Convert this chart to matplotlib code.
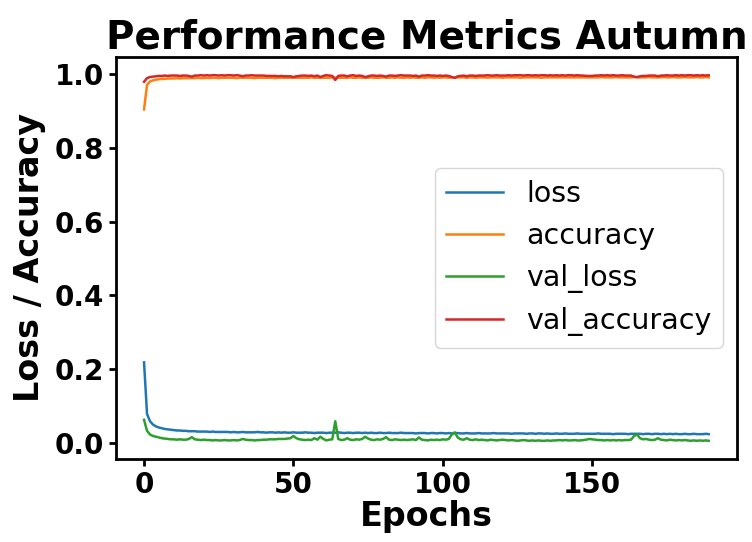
import matplotlib
matplotlib.use("Agg")
import matplotlib.pyplot as plt

# training history (190 epochs)
loss = [
    0.218, 0.078, 0.058, 0.049, 0.044, 0.041, 0.039, 0.037, 0.036, 0.035,
    0.034, 0.033, 0.033, 0.032, 0.032, 0.031, 0.031, 0.031, 0.030, 0.030,
    0.030, 0.030, 0.029, 0.030, 0.029, 0.029, 0.029, 0.029, 0.029, 0.028,
    0.029, 0.028, 0.028, 0.029, 0.028, 0.028, 0.028, 0.028, 0.029, 0.028,
    0.028, 0.027, 0.028, 0.028, 0.027, 0.028, 0.027, 0.028, 0.027, 0.027,
    0.028, 0.027, 0.027, 0.027, 0.028, 0.027, 0.027, 0.026, 0.027, 0.027,
    0.027, 0.026, 0.027, 0.027, 0.027, 0.028, 0.027, 0.026, 0.027, 0.027,
    0.026, 0.027, 0.027, 0.026, 0.027, 0.026, 0.027, 0.026, 0.026, 0.027,
    0.026, 0.026, 0.027, 0.026, 0.026, 0.026, 0.027, 0.026, 0.026, 0.026,
    0.026, 0.025, 0.026, 0.026, 0.026, 0.025, 0.026, 0.026, 0.025, 0.026,
    0.026, 0.025, 0.026, 0.025, 0.026, 0.026, 0.025, 0.025, 0.026, 0.025,
    0.025, 0.025, 0.026, 0.025, 0.025, 0.025, 0.025, 0.026, 0.025, 0.025,
    0.025, 0.025, 0.025, 0.024, 0.025, 0.025, 0.025, 0.025, 0.024, 0.025,
    0.025, 0.024, 0.025, 0.025, 0.024, 0.025, 0.024, 0.024, 0.025, 0.024,
    0.024, 0.025, 0.024, 0.024, 0.024, 0.025, 0.024, 0.024, 0.024, 0.024,
    0.024, 0.024, 0.025, 0.024, 0.024, 0.024, 0.024, 0.023, 0.024, 0.024,
    0.024, 0.024, 0.023, 0.024, 0.024, 0.024, 0.024, 0.023, 0.024, 0.024,
    0.023, 0.024, 0.024, 0.023, 0.024, 0.023, 0.024, 0.023, 0.024, 0.023,
    0.023, 0.024, 0.023, 0.023, 0.024, 0.023, 0.023, 0.023, 0.024, 0.023,
]
accuracy = [
    0.905, 0.972, 0.981, 0.984, 0.986, 0.987, 0.988, 0.988, 0.989, 0.989,
    0.989, 0.990, 0.989, 0.990, 0.990, 0.990, 0.990, 0.990, 0.991, 0.990,
    0.990, 0.991, 0.990, 0.991, 0.991, 0.990, 0.991, 0.991, 0.991, 0.991,
    0.991, 0.990, 0.991, 0.991, 0.991, 0.991, 0.991, 0.990, 0.991, 0.991,
    0.991, 0.991, 0.991, 0.991, 0.990, 0.991, 0.991, 0.991, 0.991, 0.991,
    0.991, 0.991, 0.991, 0.991, 0.991, 0.991, 0.992, 0.991, 0.991, 0.991,
    0.991, 0.991, 0.991, 0.992, 0.991, 0.991, 0.991, 0.991, 0.991, 0.992,
    0.991, 0.991, 0.992, 0.991, 0.991, 0.991, 0.992, 0.991, 0.991, 0.991,
    0.992, 0.991, 0.991, 0.992, 0.991, 0.992, 0.991, 0.991, 0.992, 0.991,
    0.992, 0.991, 0.991, 0.992, 0.991, 0.992, 0.992, 0.991, 0.992, 0.991,
    0.992, 0.992, 0.991, 0.992, 0.991, 0.992, 0.992, 0.992, 0.991, 0.992,
    0.992, 0.991, 0.992, 0.992, 0.992, 0.991, 0.992, 0.992, 0.992, 0.992,
    0.991, 0.992, 0.992, 0.992, 0.992, 0.992, 0.991, 0.992, 0.992, 0.992,
    0.992, 0.992, 0.992, 0.991, 0.992, 0.992, 0.992, 0.992, 0.992, 0.992,
    0.992, 0.992, 0.992, 0.992, 0.992, 0.992, 0.992, 0.992, 0.992, 0.992,
    0.992, 0.992, 0.992, 0.993, 0.992, 0.992, 0.992, 0.992, 0.993, 0.992,
    0.992, 0.992, 0.992, 0.992, 0.993, 0.992, 0.992, 0.992, 0.992, 0.993,
    0.992, 0.992, 0.992, 0.992, 0.993, 0.992, 0.992, 0.993, 0.992, 0.992,
    0.992, 0.993, 0.992, 0.992, 0.992, 0.993, 0.992, 0.992, 0.993, 0.992,
]
val_loss = [
    0.062, 0.032, 0.022, 0.018, 0.016, 0.014, 0.012, 0.011, 0.010, 0.009,
    0.009, 0.008, 0.009, 0.008, 0.008, 0.010, 0.015, 0.009, 0.008, 0.007,
    0.008, 0.007, 0.007, 0.006, 0.007, 0.006, 0.006, 0.007, 0.006, 0.006,
    0.007, 0.006, 0.007, 0.010, 0.008, 0.007, 0.007, 0.006, 0.007, 0.007,
    0.008, 0.008, 0.009, 0.009, 0.009, 0.010, 0.010, 0.010, 0.011, 0.012,
    0.018, 0.012, 0.009, 0.008, 0.007, 0.008, 0.007, 0.012, 0.008, 0.016,
    0.010, 0.006, 0.008, 0.009, 0.058, 0.010, 0.007, 0.008, 0.012, 0.008,
    0.007, 0.009, 0.008, 0.010, 0.016, 0.011, 0.008, 0.007, 0.009, 0.008,
    0.010, 0.015, 0.008, 0.007, 0.009, 0.008, 0.007, 0.008, 0.007, 0.008,
    0.009, 0.007, 0.014, 0.008, 0.007, 0.006, 0.008, 0.007, 0.008, 0.007,
    0.009, 0.008, 0.010, 0.022, 0.028, 0.014, 0.009, 0.008, 0.012, 0.008,
    0.007, 0.009, 0.007, 0.008, 0.007, 0.006, 0.008, 0.007, 0.006, 0.007,
    0.008, 0.007, 0.006, 0.007, 0.006, 0.005, 0.006, 0.007, 0.006, 0.005,
    0.006, 0.005, 0.006, 0.005, 0.005, 0.006, 0.005, 0.006, 0.006, 0.007,
    0.006, 0.007, 0.006, 0.006, 0.007, 0.006, 0.006, 0.007, 0.008, 0.010,
    0.009, 0.008, 0.007, 0.007, 0.006, 0.007, 0.006, 0.007, 0.006, 0.007,
    0.006, 0.007, 0.007, 0.008, 0.018, 0.022, 0.012, 0.009, 0.010, 0.008,
    0.007, 0.008, 0.012, 0.008, 0.007, 0.006, 0.008, 0.007, 0.006, 0.007,
    0.006, 0.007, 0.006, 0.005, 0.006, 0.005, 0.006, 0.005, 0.006, 0.005,
]
val_accuracy = [
    0.980, 0.990, 0.993, 0.994, 0.995, 0.996, 0.996, 0.997, 0.996, 0.997,
    0.997, 0.997, 0.996, 0.997, 0.997, 0.996, 0.994, 0.997, 0.997, 0.998,
    0.997, 0.998, 0.997, 0.998, 0.998, 0.997, 0.998, 0.997, 0.998, 0.998,
    0.997, 0.998, 0.997, 0.995, 0.997, 0.997, 0.998, 0.997, 0.997, 0.997,
    0.997, 0.996, 0.996, 0.996, 0.996, 0.995, 0.996, 0.995, 0.995, 0.995,
    0.993, 0.995, 0.996, 0.997, 0.997, 0.996, 0.997, 0.995, 0.997, 0.993,
    0.996, 0.998, 0.997, 0.996, 0.985, 0.996, 0.997, 0.997, 0.995, 0.997,
    0.998, 0.996, 0.997, 0.996, 0.993, 0.995, 0.997, 0.997, 0.996, 0.997,
    0.996, 0.994, 0.997, 0.997, 0.996, 0.997, 0.998, 0.997, 0.997, 0.997,
    0.996, 0.997, 0.994, 0.997, 0.997, 0.998, 0.997, 0.997, 0.996, 0.997,
    0.996, 0.997, 0.996, 0.993, 0.991, 0.995, 0.996, 0.997, 0.995, 0.997,
    0.997, 0.996, 0.997, 0.997, 0.997, 0.998, 0.997, 0.997, 0.998, 0.997,
    0.997, 0.997, 0.998, 0.997, 0.998, 0.998, 0.998, 0.997, 0.998, 0.998,
    0.997, 0.998, 0.997, 0.998, 0.998, 0.997, 0.998, 0.997, 0.998, 0.997,
    0.998, 0.997, 0.998, 0.998, 0.997, 0.998, 0.997, 0.997, 0.996, 0.996,
    0.996, 0.997, 0.997, 0.998, 0.997, 0.998, 0.997, 0.998, 0.997, 0.997,
    0.998, 0.997, 0.997, 0.997, 0.994, 0.993, 0.995, 0.996, 0.996, 0.997,
    0.997, 0.997, 0.995, 0.997, 0.997, 0.998, 0.997, 0.997, 0.998, 0.997,
    0.998, 0.997, 0.998, 0.998, 0.997, 0.998, 0.997, 0.998, 0.997, 0.998,
]
series_names = ["loss", "accuracy", "val_loss", "val_accuracy"]

epochs = list(range(len(loss)))

fig = plt.figure(figsize=(7.52, 5.42), dpi=100)
ax = fig.add_axes([0.154, 0.153, 0.826, 0.742])

for name, vals in zip(series_names, [loss, accuracy, val_loss, val_accuracy]):
    ax.plot(epochs, vals, label=name, linewidth=1.8)

ax.set_title("Performance Metrics Autumn", fontsize=28, fontweight="bold")
ax.set_xlabel("Epochs", fontsize=24, fontweight="bold", labelpad=1)
ax.set_ylabel("Loss / Accuracy", fontsize=24, fontweight="bold", labelpad=6)
ax.set_xticks([0, 50, 100, 150])
ax.set_yticks([0.0, 0.2, 0.4, 0.6, 0.8, 1.0])
ax.tick_params(labelsize=20, width=2, length=5)
for lbl in ax.get_xticklabels() + ax.get_yticklabels():
    lbl.set_fontweight("bold")
for sp in ax.spines.values():
    sp.set_linewidth(2)

ax.legend(loc="center right", fontsize=20.5)

fig.savefig("out.png", dpi=100)
